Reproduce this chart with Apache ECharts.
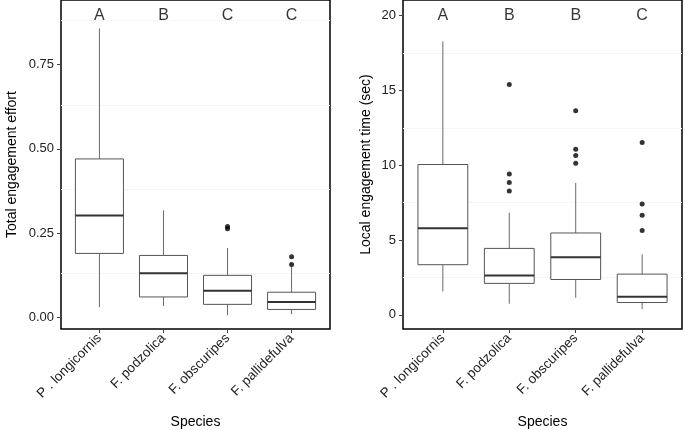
<!DOCTYPE html>
<html>
<head>
<meta charset="utf-8">
<script src="https://cdn.jsdelivr.net/npm/echarts@6/dist/echarts.min.js"></script>
<style>html,body{margin:0;padding:0;background:#fff;}#c{width:685px;height:430px;}</style>
</head>
<body>
<div id="c"></div>
<script>
const species = ['P . longicornis', 'F. podzolica', 'F. obscuripes', 'F. pallidefulva'];
// [min, Q1, median, Q3, max]
const effortBoxes = [
  [0.031, 0.190, 0.302, 0.470, 0.857],
  [0.034, 0.061, 0.131, 0.184, 0.318],
  [0.007, 0.039, 0.079, 0.125, 0.206],
  [0.010, 0.024, 0.046, 0.075, 0.152]
];
const effortOutliers = [[3, 0.263], [3, 0.270], [4, 0.157], [4, 0.180]];
const effortLetters = ['A', 'B', 'C', 'C'];
const effortTicks = [0, 0.25, 0.5, 0.75];
const effortMinorGrid = [0.125, 0.375, 0.625, 0.875];

const timeBoxes = [
  [1.56, 3.35, 5.78, 10.05, 18.28],
  [0.74, 2.10, 2.63, 4.44, 6.83],
  [1.14, 2.36, 3.84, 5.47, 8.82],
  [0.38, 0.82, 1.21, 2.72, 4.04]
];
const timeOutliers = [
  [2, 15.4], [2, 9.42], [2, 8.84], [2, 8.28],
  [3, 13.64], [3, 11.07], [3, 10.65], [3, 10.13],
  [4, 11.52], [4, 7.41], [4, 6.65], [4, 5.63]
];
const timeLetters = ['A', 'B', 'B', 'C'];
const timeTicks = [0, 5, 10, 15, 20];
const timeMinorGrid = [2.5, 7.5, 12.5, 17.5];

const FONT = 'Liberation Sans';

function boxData(boxes) { return boxes.map((b, i) => [i + 1].concat(b)); }

function renderBox(params, api) {
  const x = api.value(0);
  const pMin = api.coord([x, api.value(1)]);
  const pQ1 = api.coord([x, api.value(2)]);
  const pMed = api.coord([x, api.value(3)]);
  const pQ3 = api.coord([x, api.value(4)]);
  const pMax = api.coord([x, api.value(5)]);
  const hw = api.size([0.75, 0])[0] / 2;
  const cx = pMed[0];
  const boxStroke = '#555';
  return {
    type: 'group',
    children: [
      { type: 'line', shape: { x1: cx, y1: pQ1[1], x2: cx, y2: pMin[1] }, style: { stroke: '#6a6a6a', lineWidth: 1 } },
      { type: 'line', shape: { x1: cx, y1: pQ3[1], x2: cx, y2: pMax[1] }, style: { stroke: '#6a6a6a', lineWidth: 1 } },
      { type: 'rect', shape: { x: cx - hw, y: pQ3[1], width: 2 * hw, height: pQ1[1] - pQ3[1] }, style: { fill: '#fff', stroke: boxStroke, lineWidth: 1 } },
      { type: 'line', shape: { x1: cx - hw, y1: pMed[1], x2: cx + hw, y2: pMed[1] }, style: { stroke: '#333', lineWidth: 2 } }
    ]
  };
}

function xAxis(gi) {
  return {
    type: 'value', gridIndex: gi, min: 0.4, max: 4.6,
    name: 'Species', nameLocation: 'middle', nameGap: 86,
    nameTextStyle: { fontFamily: FONT, fontSize: 14, color: '#000' },
    axisLine: { show: false, onZero: false },
    splitLine: { show: false },
    axisTick: { show: true, length: 4, customValues: [1, 2, 3, 4], lineStyle: { color: '#444' } },
    axisLabel: {
      customValues: [1, 2, 3, 4], rotate: 45, margin: 7,
      fontFamily: FONT, fontSize: 13.5, color: '#222',
      formatter: v => species[Math.round(v) - 1]
    }
  };
}

function yAxis(gi, min, max, ticks, name, gap, fmt) {
  return {
    type: 'value', gridIndex: gi, min: min, max: max,
    name: name, nameLocation: 'middle', nameGap: gap,
    nameTextStyle: { fontFamily: FONT, fontSize: 14, color: '#000' },
    axisLine: { show: false, onZero: false },
    splitLine: { show: false },
    axisTick: { show: true, length: 4, customValues: ticks, lineStyle: { color: '#444' } },
    axisLabel: { customValues: ticks, margin: 7, fontFamily: FONT, fontSize: 13, color: '#222', formatter: fmt }
  };
}

function panelSeries(gi, boxes, outliers, letters, letterY, minor) {
  return [
    {
      type: 'scatter', xAxisIndex: gi, yAxisIndex: gi,
      data: [], z: 1, silent: true,
      markLine: {
        silent: true, symbol: 'none', label: { show: false }, z: 1,
        lineStyle: { color: '#ececec', type: 'dotted', width: 1 },
        data: minor.map(v => ({ yAxis: v }))
      }
    },
    {
      type: 'custom', xAxisIndex: gi, yAxisIndex: gi,
      renderItem: renderBox,
      encode: { x: 0, y: [1, 2, 3, 4, 5] },
      data: boxData(boxes), z: 3
    },
    {
      type: 'scatter', xAxisIndex: gi, yAxisIndex: gi,
      symbol: 'circle', symbolSize: 5,
      itemStyle: { color: '#000' },
      data: outliers, z: 4
    },
    {
      type: 'scatter', xAxisIndex: gi, yAxisIndex: gi,
      symbolSize: 0, silent: true,
      data: letters.map((l, i) => [i + 1, letterY, l]),
      label: {
        show: true, position: 'inside', formatter: p => p.value[2],
        fontFamily: FONT, fontSize: 16, color: '#000'
      }, z: 5
    }
  ];
}

const chart = echarts.init(document.getElementById('c'), null, { renderer: 'canvas' });
chart.setOption({
  animation: false,
  backgroundColor: '#fff',
  grid: [
    { left: 61, top: 0, width: 269, height: 329, show: true, borderColor: '#000', borderWidth: 1.5, backgroundColor: 'transparent', containLabel: false, outerBoundsMode: 'none' },
    { left: 403, top: 0, width: 279, height: 329, show: true, borderColor: '#000', borderWidth: 1.5, backgroundColor: 'transparent', containLabel: false, outerBoundsMode: 'none' }
  ],
  xAxis: [xAxis(0), xAxis(1)],
  yAxis: [
    yAxis(0, -0.034, 0.941, effortTicks, 'Total engagement effort', 42, v => v.toFixed(2)),
    yAxis(1, -0.95, 21.05, timeTicks, 'Local engagement time (sec)', 30, v => String(v))
  ],
  series: [].concat(
    panelSeries(0, effortBoxes, effortOutliers, effortLetters, 0.895, effortMinorGrid),
    panelSeries(1, timeBoxes, timeOutliers, timeLetters, 20.0, timeMinorGrid)
  )
});
</script>
</body>
</html>
